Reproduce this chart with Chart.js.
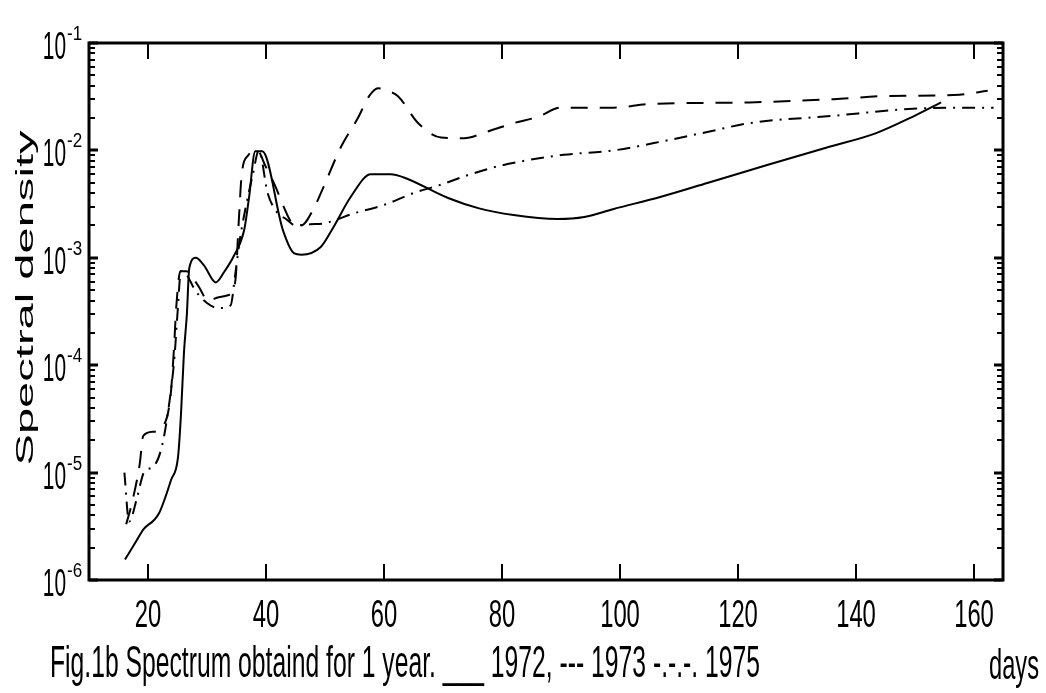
<!DOCTYPE html>
<html>
<head>
<meta charset="utf-8">
<script src="https://cdn.jsdelivr.net/npm/chart.js@4.4.1/dist/chart.umd.min.js"></script>
<style>
  html, body { margin: 0; padding: 0; background: #fff; }
  #wrap { width: 1046px; height: 693px; }
</style>
</head>
<body>
<div id="wrap"><canvas id="chart"></canvas></div>
<script>
// 1972 (solid)
const days1972 = [16.1, 18, 19.3, 21, 21.9, 23, 23.9, 25.1, 25.6, 26.1, 26.6, 27, 28.1, 29.5, 31.5, 33,
  34.6, 36.3, 37.1, 38.2, 39.4, 42.9, 44.8, 46, 49.3, 51.5, 54.4, 57.8, 61.2, 63.4, 70.9, 76, 82,
  89.5, 94, 99, 107, 115, 125, 135, 143.5, 150, 154.5];
const dens1972 = [1.55e-6, 2.3e-6, 3.0e-6, 3.6e-6, 4.2e-6, 6e-6, 8.5e-6, 1.4e-5, 3.5e-5, 1.3e-4, 3.0e-4, 8e-4,
  1.0e-3, 8.5e-4, 5.9e-4, 7.5e-4, 1.05e-3, 1.8e-3, 3.5e-3, 9.8e-3, 9.8e-3, 1.8e-3, 1.1e-3, 1.07e-3,
  1.26e-3, 1.95e-3, 3.7e-3, 6.0e-3, 6.0e-3, 5.6e-3, 3.6e-3, 2.9e-3, 2.5e-3, 2.3e-3, 2.4e-3, 2.85e-3,
  3.7e-3, 5e-3, 7.3e-3, 1.06e-2, 1.45e-2, 2.1e-2, 2.8e-2];

// 1973 (dashed)
const days1973 = [16.3, 17.2, 18.6, 19.2, 21, 22.3, 23.8, 24.4, 24.8, 25.5, 26.5, 28.5, 30.2, 32, 33.7,
  34.8, 35.4, 35.9, 37, 38.5, 40, 41.7, 43, 44.5, 46, 48, 49.8, 52.7, 55.6, 57.5, 59, 60.5, 62.4,
  65.8, 69.7, 73.6, 77.6, 82.1, 86.1, 90, 99, 105, 122, 136.3, 144.8, 157.6, 162.4];
const dens1973 = [3.3e-6, 5e-6, 1.2e-5, 2.2e-5, 2.4e-5, 2.6e-5, 5e-5, 1.4e-4, 3.5e-4, 7.5e-4, 7.5e-4,
  5.5e-4, 4e-4, 4.3e-4, 4.5e-4, 6e-4, 2.2e-3, 6e-3, 9e-3, 1e-2, 7e-3, 4.5e-3, 3e-3, 2.1e-3, 2.0e-3,
  2.8e-3, 4.6e-3, 1.07e-2, 2.0e-2, 3.2e-2, 3.8e-2, 3.6e-2, 3.2e-2, 1.8e-2, 1.32e-2, 1.3e-2, 1.5e-2,
  1.8e-2, 2.05e-2, 2.5e-2, 2.5e-2, 2.7e-2, 2.8e-2, 3.0e-2, 3.2e-2, 3.3e-2, 3.6e-2];

// 1975 (dash-dot)
const days1975 = [16, 16.8, 18.2, 19.3, 21, 22.3, 23.5, 24.5, 25, 25.6, 26.5, 28, 30, 32, 34, 34.8,
  35.6, 36.6, 37.8, 38.8, 40.3, 42, 43.4, 45, 47.5, 50, 55, 60, 65, 69.7, 74.3, 79.3, 84.9, 90.5,
  99, 105.8, 114, 122.2, 136.3, 147.7, 156, 163.4];
const dens1975 = [1e-5, 3.5e-6, 6e-6, 1e-5, 1.15e-5, 1.7e-5, 4e-5, 1.2e-4, 3e-4, 7.5e-4, 7e-4, 5e-4,
  3.8e-4, 3.4e-4, 3.6e-4, 7e-4, 1.5e-3, 3e-3, 6e-3, 1e-2, 4e-3, 2.6e-3, 2.3e-3, 2.0e-3, 2.05e-3,
  2.1e-3, 2.6e-3, 3.1e-3, 4e-3, 4.8e-3, 5.9e-3, 7.1e-3, 8.2e-3, 9.1e-3, 1.0e-2, 1.17e-2, 1.45e-2,
  1.8e-2, 2.1e-2, 2.4e-2, 2.5e-2, 2.5e-2];

const xTicks = [20, 40, 60, 80, 100, 120, 140, 160];
const yTicks = [1e-6, 1e-5, 1e-4, 1e-3, 1e-2, 1e-1];
const yExponents = ['-6', '-5', '-4', '-3', '-2', '-1'];
const yTitle = 'Spectral density';
const caption = 'Fig.1b Spectrum obtaind for 1 year. ___ 1972, --- 1973 -.-.-. 1975';
const xUnit = 'days';

const FONT = '"Liberation Sans", Arial, sans-serif';

function toPoints(xs, ys) {
  return xs.map((x, i) => ({ x: x, y: ys[i] }));
}

// text is squeezed horizontally like in the scanned figure
function drawText(ctx, txt, x, y, size, sx, align) {
  ctx.save();
  ctx.font = size + 'px ' + FONT;
  ctx.translate(x, y);
  ctx.scale(sx, 1);
  ctx.textAlign = align;
  ctx.textBaseline = 'alphabetic';
  ctx.fillText(txt, 0, 0);
  ctx.restore();
}

const axesPlugin = {
  id: 'axesPlugin',
  afterDraw(chart) {
    const ctx = chart.ctx;
    const a = chart.chartArea;
    const xs = chart.scales.x;
    const ys = chart.scales.y;
    ctx.save();
    ctx.fillStyle = '#000';
    ctx.strokeStyle = '#000';

    // frame
    ctx.lineWidth = 3;
    ctx.strokeRect(a.left, a.top, a.right - a.left, a.bottom - a.top);

    // x ticks, inward, top and bottom
    ctx.lineWidth = 2;
    xTicks.forEach(v => {
      const px = Math.round(xs.getPixelForValue(v));
      ctx.beginPath();
      ctx.moveTo(px, a.bottom);
      ctx.lineTo(px, a.bottom - 16);
      ctx.moveTo(px, a.top);
      ctx.lineTo(px, a.top + 16);
      ctx.stroke();
      drawText(ctx, String(v), px, a.bottom + 47, 39, 0.61, 'center');
    });

    // y ticks, major and minor, both sides
    yTicks.forEach((v, i) => {
      const py = Math.round(ys.getPixelForValue(v));
      ctx.lineWidth = 3;
      ctx.beginPath();
      ctx.moveTo(a.left, py);
      ctx.lineTo(a.left + 9, py);
      ctx.moveTo(a.right, py);
      ctx.lineTo(a.right - 9, py);
      ctx.stroke();
      if (i < yTicks.length - 1) {
        ctx.lineWidth = 2;
        for (let m = 2; m <= 9; m++) {
          const pm = Math.round(ys.getPixelForValue(v * m));
          ctx.beginPath();
          ctx.moveTo(a.left, pm);
          ctx.lineTo(a.left + 6, pm);
          ctx.moveTo(a.right, pm);
          ctx.lineTo(a.right - 6, pm);
          ctx.stroke();
        }
      }
      drawText(ctx, '10', a.left - 23, py + 16, 38, 0.55, 'right');
      drawText(ctx, yExponents[i], a.left - 22, py - 3, 20, 0.85, 'left');
    });

    // y title, rotated
    ctx.save();
    ctx.font = '40px ' + FONT;
    const tw = ctx.measureText(yTitle).width;
    ctx.translate(33, 298);
    ctx.rotate(-Math.PI / 2);
    ctx.scale(335 / tw, 0.62);
    ctx.textAlign = 'center';
    ctx.textBaseline = 'alphabetic';
    ctx.fillText(yTitle, 0, 0);
    ctx.restore();

    // caption and unit
    ctx.font = '44px ' + FONT;
    const cw = ctx.measureText(caption).width;
    drawText(ctx, caption, 50, 677, 44, 710 / cw, 'left');
    ctx.font = '42px ' + FONT;
    const dw = ctx.measureText(xUnit).width;
    drawText(ctx, xUnit, 989, 679, 42, 50 / dw, 'left');

    ctx.restore();
  }
};

const lineStyle = {
  borderColor: '#000',
  borderWidth: 2,
  pointRadius: 0,
  fill: false,
  cubicInterpolationMode: 'monotone'
};

new Chart(document.getElementById('chart'), {
  type: 'line',
  data: {
    datasets: [
      Object.assign({ label: '1972', data: toPoints(days1972, dens1972), borderDash: [] }, lineStyle),
      Object.assign({ label: '1973', data: toPoints(days1973, dens1973), borderDash: [17, 12] }, lineStyle),
      Object.assign({ label: '1975', data: toPoints(days1975, dens1975), borderDash: [13, 7, 2, 7] }, lineStyle)
    ]
  },
  options: {
    responsive: true,
    maintainAspectRatio: false,
    animation: false,
    devicePixelRatio: 1,
    layout: { padding: { left: 89, right: 43, top: 43, bottom: 113 } },
    scales: {
      x: { type: 'linear', min: 10, max: 165, display: false },
      y: { type: 'logarithmic', min: 1e-6, max: 1e-1, display: false }
    },
    plugins: {
      legend: { display: false },
      tooltip: { enabled: false }
    }
  },
  plugins: [axesPlugin]
});
</script>
</body>
</html>
